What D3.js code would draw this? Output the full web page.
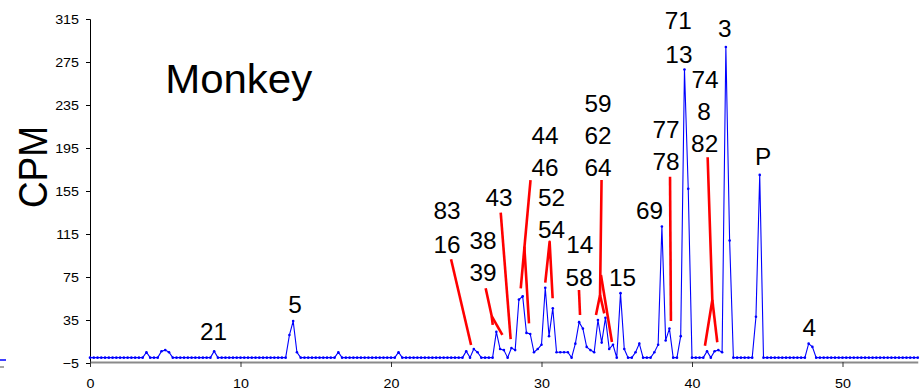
<!DOCTYPE html>
<html>
<head>
<meta charset="utf-8">
<script src="https://cdn.jsdelivr.net/npm/d3@7"></script>
<style>
  body { margin: 0; background: #fff; }
  svg { display: block; font-family: "Liberation Sans", Arial, sans-serif; }
</style>
</head>
<body>
<svg width="921" height="391"></svg>
<script>
// sample times (min), one reading every 0.25 min
const times = d3.range(0, 55.001, 0.25);

// radioactivity (CPM) per sample, 5 minutes per row
const cpm = [
  0,0,0,0, 0,0,0,0, 0,0,0,0, 0,0,0,5, 0,0,0,6,
  7,5,0,0, 0,0,0,0, 0,0,0,0, 0,6,0,0, 0,0,0,0,
  0,0,0,0, 0,0,0,0, 0,0,0,0, 0,21,34,5, 0,0,0,0,
  0,0,0,0, 0,0,5,0, 0,0,0,0, 0,0,0,0, 0,0,0,0,
  0,0,5,0, 0,0,0,0, 0,0,0,0, 0,0,0,0, 0,0,0,0,
  6,0,8,5, 0,0,0,0, 24,8,7,0, 9,7,54,57, 23,22,5,8,
  12,65,20,46, 5,5,5,5, 0,13,33,27, 10,7,5,35, 14,37,8,12,
  0,60,8,0, 0,5,13,0, 0,0,5,12, 122,16,27,0, 0,20,268,157,
  0,0,0,0, 6,0,6,7, 5,289,109,0, 0,0,0,0, 0,38,170,0,
  0,0,0,0, 0,0,0,0, 0,0,0,13, 10,0,0,0, 0,0,0,0,
  0,0,0,0, 0,0,0,0, 0,0,0,0, 0,0,0,0, 0,0,0,0,
  0
];

const yTicks = [-5, 35, 75, 115, 155, 195, 235, 275, 315];
const xTicks = [0, 10, 20, 30, 40, 50];

// peak labels: text, time, cpm (anchor of the text baseline centre)
const peakLabels = [
  ["21", 8.21, 16.4], ["5", 13.62, 41.5],
  ["83", 23.72, 129], ["16", 23.72, 97.3],
  ["38", 26.11, 100.8], ["39", 26.11, 71.3],
  ["43", 27.18, 141],
  ["44", 30.23, 198.7], ["46", 30.23, 169],
  ["52", 30.66, 141], ["54", 30.66, 111.6],
  ["14", 32.54, 97.3], ["58", 32.5, 66.9],
  ["59", 33.75, 228.5], ["62", 33.75, 198.7], ["64", 33.75, 169],
  ["15", 35.38, 66.9], ["69", 37.18, 129],
  ["77", 38.27, 204.6], ["78", 38.27, 174.5],
  ["71", 39.09, 305.4], ["13", 39.13, 274.4],
  ["74", 40.86, 250.5], ["8", 40.8, 221], ["82", 40.84, 191.6],
  ["3", 42.17, 298], ["P", 44.72, 179.2], ["4", 47.79, 20.1]
];

// red leader lines, [time, cpm] points
const leaders = [
  [[23.99, 91.5], [25.32, 11.7]],
  [[26.29, 64.5], [26.69, 38.7], [26.76, 30.4]],
  [[26.69, 38.7], [27.40, 21.1]],
  [[27.29, 134.8], [27.95, 17.3]],
  [[29.27, 165.2], [28.62, 64.5]],
  [[28.86, 103.2], [29.17, 31.9]],
  [[30.25, 69.7], [30.54, 107.8], [30.74, 55.2]],
  [[32.49, 62.9], [32.56, 39.7]],
  [[33.99, 165.2], [33.89, 58.3], [33.62, 39.7]],
  [[33.89, 58.3], [34.17, 41.2]],
  [[33.95, 76.9], [34.68, 14.5]],
  [[38.54, 168.3], [38.60, 34.1]],
  [[41.04, 186.4], [41.35, 53.6], [40.86, 11.1]],
  [[41.35, 53.6], [41.68, 14.3]]
];

const svg = d3.select("svg");

const x = d3.scaleLinear().domain([0, 55]).range([90, 917.75]);
const y = d3.scaleLinear().domain([-5, 315]).range([363, 19]);

const data = times.map((t, i) => ({ t, v: cpm[i] }));

// y axis
const yAxis = svg.append("g")
  .attr("transform", "translate(90,0)")
  .call(d3.axisLeft(y).tickValues(yTicks).tickSize(4).tickFormat(d3.format("d")));
yAxis.select(".domain").attr("stroke", "#000").attr("stroke-width", 1);
yAxis.selectAll("text")
  .attr("x", 0)
  .attr("transform", "translate(-11,0) scale(1.1,1)")
  .attr("font-size", 13)
  .attr("font-family", "Liberation Sans, Arial, sans-serif")
  .attr("fill", "#000");

// x axis
const xAxis = svg.append("g")
  .attr("transform", "translate(0,362)")
  .call(d3.axisBottom(x).tickValues(xTicks).tickSize(5).tickPadding(12).tickSizeOuter(0));
xAxis.select(".domain").attr("stroke", "#8a8a8a").attr("stroke-width", 2.2);
xAxis.selectAll(".tick line").attr("stroke", "#333");
xAxis.selectAll("text")
  .attr("font-size", 13)
  .attr("font-family", "Liberation Sans, Arial, sans-serif")
  .attr("transform", "scale(1.1,1)")
  .attr("fill", "#000");

// clipped legend stub at the left edge
svg.append("line").attr("x1", 0).attr("x2", 6).attr("y1", 360).attr("y2", 360)
  .attr("stroke", "#0000ff").attr("stroke-width", 1.5);
svg.append("line").attr("x1", 0).attr("x2", 4).attr("y1", 367).attr("y2", 367)
  .attr("stroke", "#888").attr("stroke-width", 1.5);

// trace
const line = d3.line().x(d => x(d.t)).y(d => y(d.v));
svg.append("path")
  .datum(data)
  .attr("d", line)
  .attr("fill", "none")
  .attr("stroke", "#0000ff")
  .attr("stroke-width", 1.1);

svg.append("g").selectAll("circle")
  .data(data)
  .enter().append("circle")
    .attr("cx", d => x(d.t))
    .attr("cy", d => y(d.v))
    .attr("r", 1.3)
    .attr("fill", "#0000ff");

// leader lines
const leaderLine = d3.line().x(d => x(d[0])).y(d => y(d[1]));
svg.append("g").selectAll("path")
  .data(leaders)
  .enter().append("path")
    .attr("d", leaderLine)
    .attr("fill", "none")
    .attr("stroke", "#ff0000")
    .attr("stroke-width", 2.6)
    .attr("stroke-linejoin", "round");

// peak labels
svg.append("g").selectAll("text")
  .data(peakLabels)
  .enter().append("text")
    .attr("transform", d => `translate(${x(d[1])},${y(d[2])}) scale(1.06,1)`)
    .attr("text-anchor", "middle")
    .attr("font-size", 23)
    .attr("fill", "#000")
    .text(d => d[0]);

// title and y label
svg.append("text")
  .attr("transform", "translate(238.7,93) scale(1.05,1)")
  .attr("text-anchor", "middle")
  .attr("font-size", 40)
  .text("Monkey");

svg.append("text")
  .attr("transform", "translate(47,167) scale(1.1,1) rotate(-90)")
  .attr("text-anchor", "middle")
  .attr("font-size", 37)
  .text("CPM");
</script>
</body>
</html>
